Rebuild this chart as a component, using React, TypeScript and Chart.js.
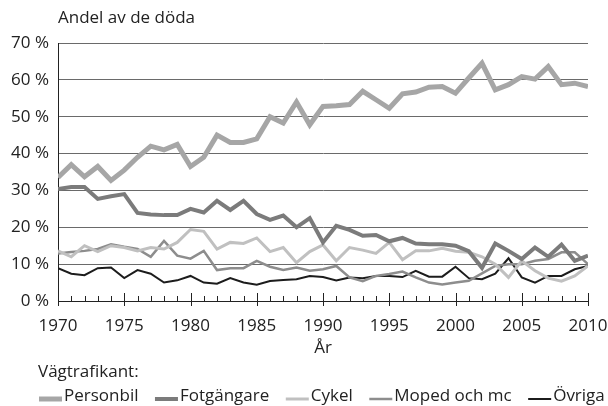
import React, { useEffect, useRef } from "react";
import { Chart, registerables } from "chart.js";

Chart.register(...registerables);

const FONT = "'Open Sans', sans-serif";

const chartTitle = "Andel av de döda";
const xAxisTitle = "År";
const legendTitle = "Vägtrafikant:";

const years = [
  1970, 1971, 1972, 1973, 1974, 1975, 1976, 1977, 1978, 1979,
  1980, 1981, 1982, 1983, 1984, 1985, 1986, 1987, 1988, 1989,
  1990, 1991, 1992, 1993, 1994, 1995, 1996, 1997, 1998, 1999,
  2000, 2001, 2002, 2003, 2004, 2005, 2006, 2007, 2008, 2009, 2010,
];

const yTickValues = [0, 10, 20, 30, 40, 50, 60, 70];

const seriesNames = ["Personbil", "Fotgängare", "Cykel", "Moped och mc", "Övriga"];

const personbil = [
  33.5, 37, 33.7, 36.5, 32.7, 35.5, 39, 42, 41, 42.5,
  36.5, 39, 45, 43, 43, 44, 50, 48.3, 54, 47.8,
  52.8, 53, 53.3, 56.9, 54.6, 52.3, 56.2, 56.7, 58, 58.2,
  56.4, 60.5, 64.5, 57.3, 58.7, 60.9, 60.2, 63.6, 58.7, 59.1, 58.2,
];

const fotgangare = [
  30.4, 30.9, 30.9, 27.7, 28.4, 29, 23.9, 23.5, 23.3, 23.3,
  25, 24, 27.2, 24.7, 27.2, 23.6, 22, 23.2, 20, 22.5,
  15.9, 20.4, 19.3, 17.7, 17.9, 16.2, 17.1, 15.6, 15.4, 15.4,
  15, 13.5, 9, 15.6, 13.6, 11.4, 14.5, 12, 15.3, 10.9, 12.3,
];

const cykel = [
  13.6, 12, 15, 13.4, 15, 14.5, 13.6, 14.5, 14.1, 15.9,
  19.4, 18.9, 14.1, 15.9, 15.6, 17.1, 13.4, 14.5, 10.4, 13.4,
  15.2, 10.9, 14.5, 13.8, 12.9, 15.9, 11.2, 13.6, 13.6, 14.3,
  13.5, 13.2, 12, 10, 6.4, 10.9, 8.2, 6.2, 5.4, 6.8, 9.5,
];

const moped = [
  12.9, 13.3, 13.6, 14.1, 15.4, 14.7, 14.1, 12, 16.3, 12.3,
  11.5, 13.6, 8.4, 8.9, 8.9, 10.9, 9.3, 8.4, 9.1, 8.2,
  8.6, 9.5, 6.4, 5.4, 6.8, 7.3, 8, 6.4, 5, 4.5,
  5, 5.5, 7.5, 9.5, 10, 10, 10.9, 11.4, 13.2, 13.2, 10,
];

const ovriga = [
  8.9, 7.4, 7, 8.9, 9.1, 6.2, 8.4, 7.4, 5, 5.6,
  6.8, 5, 4.7, 6.2, 5, 4.4, 5.4, 5.7, 5.9, 6.8,
  6.5, 5.6, 6.4, 6.2, 6.8, 6.8, 6.5, 8.2, 6.6, 6.6,
  9.3, 6.2, 5.9, 7.4, 11.6, 6.4, 5, 6.8, 6.8, 8.6, 9.5,
];

const seriesValues = [personbil, fotgangare, cykel, moped, ovriga];
const seriesColors = ["#a6a6a6", "#7b7b7b", "#c0c0c0", "#8d8d8d", "#1c1c1c"];
const seriesWidths = [5, 4, 3, 2.5, 2];

export default function App() {
  const ref = useRef<HTMLCanvasElement | null>(null);

  useEffect(() => {
    const canvas = ref.current;
    if (!canvas) return;

    const datasets = seriesNames.map((name, i) => ({
      label: name,
      data: years.map((yr, j) => ({ x: yr, y: seriesValues[i][j] })),
      borderColor: seriesColors[i],
      backgroundColor: seriesColors[i],
      borderWidth: seriesWidths[i],
      pointRadius: 0,
      pointHoverRadius: 0,
      fill: false,
      tension: 0,
    }));

    const extras = {
      id: "extras",
      afterDraw(chart: any) {
        const { ctx, chartArea, scales } = chart;
        const xs = scales.x;
        const ys = scales.y;
        ctx.save();
        // axis tick marks
        ctx.strokeStyle = "#222";
        ctx.lineWidth = 1;
        const base = Math.round(ys.getPixelForValue(0));
        years.forEach((yr) => {
          const px = Math.round(xs.getPixelForValue(yr)) + 0.5;
          const major = yr % 5 === 0;
          ctx.beginPath();
          ctx.moveTo(px, base - (major ? 8 : 5));
          ctx.lineTo(px, base + (major ? 5 : 0));
          ctx.stroke();
        });
        // texts
        ctx.fillStyle = "#222";
        ctx.font = `17px ${FONT}`;
        ctx.textBaseline = "middle";
        ctx.textAlign = "left";
        ctx.fillText(chartTitle, chartArea.left, 18);
        ctx.fillText(legendTitle, 38, 372);
        // legend
        let cx = 39;
        chart.data.datasets.forEach((ds: any) => {
          ctx.strokeStyle = ds.borderColor;
          ctx.lineWidth = ds.borderWidth;
          ctx.beginPath();
          ctx.moveTo(cx, 399);
          ctx.lineTo(cx + 23, 399);
          ctx.stroke();
          cx += 25;
          ctx.fillText(ds.label, cx, 396);
          cx += ctx.measureText(ds.label).width + 16.5;
        });
        ctx.restore();
      },
    };

    const chart = new Chart(canvas, {
      type: "line",
      data: { datasets },
      options: {
        animation: false,
        responsive: false,
        devicePixelRatio: 1,
        layout: { padding: { top: 43, left: 0, right: 0, bottom: 0 } },
        plugins: {
          legend: { display: false },
          title: { display: false },
          tooltip: { enabled: false },
        },
        scales: {
          x: {
            type: "linear",
            min: 1970,
            max: 2010,
            afterFit: (s: any) => {
              s.height = 105;
              s.paddingLeft = 0;
              s.paddingRight = 20;
            },
            grid: { display: false },
            border: { display: true, color: "#222", width: 1 },
            ticks: {
              stepSize: 5,
              padding: 7,
              color: "#222",
              font: { family: FONT, size: 17 },
              callback: (v: any) => String(v),
            },
            title: {
              display: true,
              text: xAxisTitle,
              color: "#222",
              font: { family: FONT, size: 17 },
              padding: { top: 0, bottom: 48 },
            },
          },
          y: {
            min: 0,
            max: 70,
            afterFit: (s: any) => {
              s.width = 58;
            },
            afterBuildTicks: (s: any) => {
              s.ticks = yTickValues.map((v) => ({ value: v }));
            },
            grid: { color: "#6a6a6a", lineWidth: 1, drawTicks: false },
            border: { display: true, color: "#222", width: 1 },
            ticks: {
              padding: 9,
              color: "#222",
              font: { family: FONT, size: 17 },
              callback: (v: any) => `${v} %`,
            },
          },
        },
      },
      plugins: [extras],
    });

    return () => chart.destroy();
  }, []);

  return (
    <div style={{ position: "fixed", left: 0, top: 0, width: 608, height: 406, background: "#fff" }}>
      <canvas ref={ref} width={608} height={406} />
    </div>
  );
}
